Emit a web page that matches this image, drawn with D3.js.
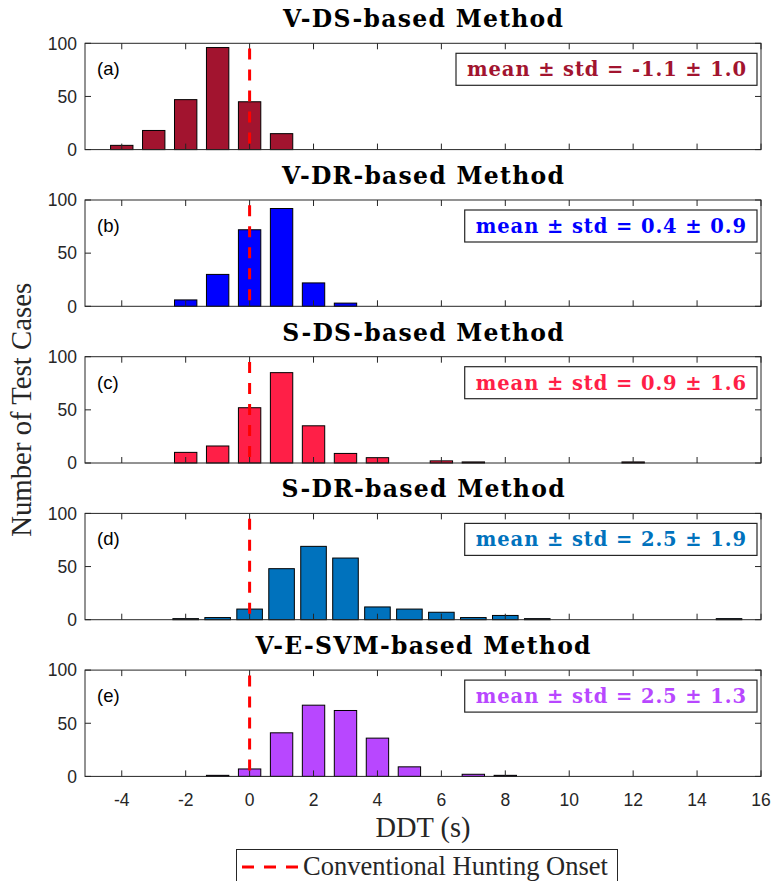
<!DOCTYPE html>
<html>
<head>
<meta charset="utf-8">
<script src="https://cdn.jsdelivr.net/npm/d3@7"></script>
<style>
  html, body { margin: 0; padding: 0; background: #fff; }
  svg { display: block; }
</style>
</head>
<body>
<svg id="chart" width="773" height="881"></svg>
<script>
// ---------------- data ----------------
const binCenters = [-4, -3, -2, -1, 0, 1, 2, 3, 4, 5, 6, 7, 8, 9, 10, 11, 12, 13, 14, 15];
const methodTitles = ["V-DS-based Method", "V-DR-based Method", "S-DS-based Method", "S-DR-based Method", "V-E-SVM-based Method"];
const panelLabels = ["(a)", "(b)", "(c)", "(d)", "(e)"];
const countsVDS  = [4, 18, 47, 96, 45, 15, 0, 0, 0, 0, 0, 0, 0, 0, 0, 0, 0, 0, 0, 0];
const countsVDR  = [0, 0, 6, 30, 72, 92, 22, 3, 0, 0, 0, 0, 0, 0, 0, 0, 0, 0, 0, 0];
const countsSDS  = [0, 0, 10, 16, 52, 85, 35, 9, 5, 0, 2, 1, 0, 0, 0, 0, 1, 0, 0, 0];
const countsSDR  = [0, 0, 1, 2, 10, 48, 69, 58, 12, 10, 7, 2, 4, 1, 0, 0, 0, 0, 0, 1];
const countsVESVM = [0, 0, 0, 1, 7, 41, 67, 62, 36, 9, 0, 2, 1, 0, 0, 0, 0, 0, 0, 0];
const allCounts = [countsVDS, countsVDR, countsSDS, countsSDR, countsVESVM];
const statTexts = ["mean \u00B1 std = -1.1 \u00B1 1.0", "mean \u00B1 std = 0.4 \u00B1 0.9", "mean \u00B1 std = 0.9 \u00B1 1.6", "mean \u00B1 std = 2.5 \u00B1 1.9", "mean \u00B1 std = 2.5 \u00B1 1.3"];
const colors = ["#A2142F", "#0000FF", "#FF1F47", "#0072BD", "#B847FF"];
const barWidths = [0.7, 0.7, 0.7, 0.8, 0.7];
const xTicks = [-4, -2, 0, 2, 4, 6, 8, 10, 12, 14, 16];
const yTicks = [0, 50, 100];
const onsetX = 0;
const onsetTop = 95;
const xLabel = "DDT (s)";
const yLabel = "Number of Test Cases";
const legendText = "Conventional Hunting Onset";

// ---------------- layout ----------------
const svg = d3.select("#chart");
const axisColor = "#262626";
const left = 85, right = 761;
const firstTop = 43.3, step = 156.7, panelH = 106.3;
const serif = "'Liberation Serif', 'Times New Roman', serif";
const serifBold = "'DejaVu Serif', serif";
const sans = "'Liberation Sans', Arial, Helvetica, sans-serif";
const dash = "11,10";

const x = d3.scaleLinear().domain([-5.15, 16]).range([left, right]);

function sizeFor(text, family, weight, baseSize, targetW) {
  const t = svg.append("text").attr("font-family", family).attr("font-weight", weight)
    .attr("font-size", baseSize).text(text);
  const w = t.node().getComputedTextLength();
  t.remove();
  return w > 0 ? baseSize * targetW / w : baseSize;
}
function widthOf(text, family, weight, size) {
  const t = svg.append("text").attr("font-family", family).attr("font-weight", weight)
    .attr("font-size", size).text(text);
  const w = t.node().getComputedTextLength();
  t.remove();
  return w;
}
const titleSize = 23.5;
const titleScale = 280 / widthOf(methodTitles[0], serifBold, "bold", titleSize);
const statSize = 19.5;
const statScale = 279 / widthOf(statTexts[0], serifBold, "bold", statSize);

allCounts.forEach((counts, i) => {
  const top = firstTop + i * step;
  const bottom = top + panelH;
  const y = d3.scaleLinear().domain([0, 100]).range([bottom, top]);
  const g = svg.append("g");

  // bars
  g.selectAll("rect.bar")
    .data(binCenters.map((c, k) => ({ c, v: counts[k] })))
    .join("rect")
    .attr("class", "bar")
    .attr("x", d => x(d.c - barWidths[i] / 2))
    .attr("width", d => x(d.c + barWidths[i] / 2) - x(d.c - barWidths[i] / 2))
    .attr("y", d => y(d.v))
    .attr("height", d => y(0) - y(d.v))
    .attr("fill", colors[i])
    .attr("stroke", "#000")
    .attr("stroke-width", 1);

  // box
  g.append("rect")
    .attr("x", left).attr("y", top)
    .attr("width", right - left).attr("height", panelH)
    .attr("fill", "none").attr("stroke", axisColor).attr("stroke-width", 1);

  // ticks (inward, mirrored)
  const tl = 6;
  xTicks.forEach(t => {
    g.append("line").attr("x1", x(t)).attr("x2", x(t)).attr("y1", bottom).attr("y2", bottom - tl)
      .attr("stroke", axisColor);
    g.append("line").attr("x1", x(t)).attr("x2", x(t)).attr("y1", top).attr("y2", top + tl)
      .attr("stroke", axisColor);
  });
  yTicks.forEach(t => {
    g.append("line").attr("x1", left).attr("x2", left + tl).attr("y1", y(t)).attr("y2", y(t))
      .attr("stroke", axisColor);
    g.append("line").attr("x1", right).attr("x2", right - tl).attr("y1", y(t)).attr("y2", y(t))
      .attr("stroke", axisColor);
    g.append("text").attr("x", left - 8).attr("y", y(t)).attr("dy", "0.36em")
      .attr("text-anchor", "end").attr("font-family", sans).attr("font-size", 17.5)
      .attr("fill", axisColor).text(t);
  });

  // onset dashed line
  g.append("line")
    .attr("x1", x(onsetX)).attr("x2", x(onsetX))
    .attr("y1", y(onsetTop)).attr("y2", y(0))
    .attr("stroke", "#FF0000").attr("stroke-width", 3)
    .attr("stroke-dasharray", dash);

  // title
  const tw = widthOf(methodTitles[i], serifBold, "bold", titleSize) * titleScale;
  g.append("text")
    .attr("x", (left + right) / 2 - tw / 2).attr("y", top - 16)
    .attr("font-family", serifBold).attr("font-weight", "bold")
    .attr("font-size", titleSize).attr("fill", "#000")
    .attr("textLength", tw.toFixed(1)).attr("lengthAdjust", "spacing")
    .text(methodTitles[i]);

  // panel label
  g.append("text").attr("x", 97).attr("y", top + 32)
    .attr("font-family", sans).attr("font-size", 18.5).attr("fill", "#000")
    .text(panelLabels[i]);

  // stat box
  const boxR = 757, boxH = 32, boxTop = top + 10;
  const sw = widthOf(statTexts[i], serifBold, "bold", statSize) * statScale;
  const sx = boxR - 11 - sw;
  g.append("rect")
    .attr("x", sx - 11).attr("y", boxTop)
    .attr("width", boxR - (sx - 11)).attr("height", boxH)
    .attr("fill", "#fff").attr("stroke", axisColor).attr("stroke-width", 1.2);
  g.append("text")
    .attr("x", sx).attr("y", boxTop + 23)
    .attr("font-family", serifBold).attr("font-weight", "bold")
    .attr("font-size", statSize).attr("fill", colors[i])
    .attr("textLength", sw.toFixed(1)).attr("lengthAdjust", "spacing")
    .text(statTexts[i]);
});

// x tick labels (bottom panel only)
const lastBottom = firstTop + 4 * step + panelH;
xTicks.forEach(t => {
  svg.append("text").attr("x", x(t)).attr("y", lastBottom + 30)
    .attr("text-anchor", "middle").attr("font-family", sans).attr("font-size", 17.5)
    .attr("fill", axisColor).text(t);
});

// axis labels
svg.append("text").attr("x", (left + right) / 2).attr("y", lastBottom + 61)
  .attr("text-anchor", "middle").attr("font-family", serif)
  .attr("font-size", sizeFor(xLabel, serif, "normal", 24, 95).toFixed(2))
  .attr("fill", axisColor).text(xLabel);

svg.append("text")
  .attr("transform", `translate(31, ${(firstTop + lastBottom) / 2}) rotate(-90)`)
  .attr("text-anchor", "middle").attr("font-family", serif)
  .attr("font-size", sizeFor(yLabel, serif, "normal", 24, 254).toFixed(2))
  .attr("fill", axisColor).text(yLabel);

// legend
const lg = svg.append("g");
lg.append("rect").attr("x", 236.5).attr("y", 849.5).attr("width", 381).attr("height", 40)
  .attr("fill", "#fff").attr("stroke", axisColor).attr("stroke-width", 1);
lg.append("line").attr("x1", 242).attr("x2", 298).attr("y1", 867).attr("y2", 867)
  .attr("stroke", "#FF0000").attr("stroke-width", 3).attr("stroke-dasharray", "12,10");
lg.append("text").attr("x", 303).attr("y", 875)
  .attr("font-family", serif)
  .attr("font-size", sizeFor(legendText, serif, "normal", 24, 305).toFixed(2))
  .attr("fill", axisColor).text(legendText);
</script>
</body>
</html>
